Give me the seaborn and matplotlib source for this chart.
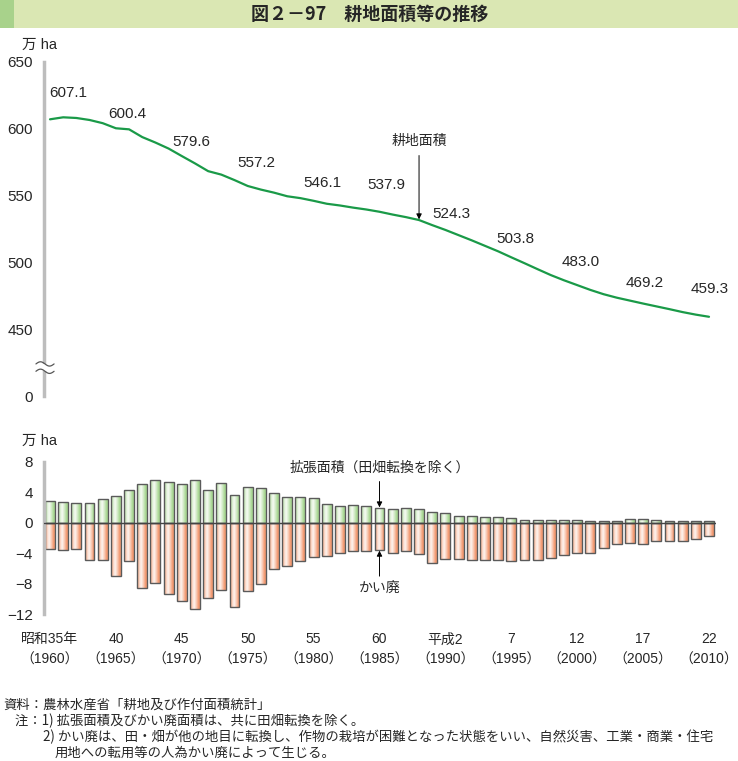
import numpy as np
import matplotlib
matplotlib.use("Agg")
import matplotlib.pyplot as plt
import seaborn as sns
from matplotlib.patches import Rectangle

# data (万ha)
years = list(range(1960, 2011))
farmland = [607.1, 608.6, 608.1, 606.6, 604.2, 600.4, 599.6, 593.8, 589.7, 585.2,
            579.6, 574.1, 568.3, 565.7, 561.6, 557.2, 554.5, 552.2, 549.5, 548.1,
            546.1, 543.9, 542.6, 541.0, 539.6, 537.9, 535.8, 533.9, 531.7, 527.9,
            524.3, 520.4, 516.5, 512.4, 508.3, 503.8, 499.4, 494.9, 490.5, 486.6,
            483.0, 479.4, 476.2, 473.6, 471.4, 469.2, 467.1, 465.0, 462.8, 460.9, 459.3]
expansion = [2.91, 2.74, 2.61, 2.61, 3.13, 3.48, 4.26, 5.13, 5.57, 5.35,
             5.09, 5.61, 4.26, 5.22, 3.65, 4.65, 4.57, 3.91, 3.43, 3.39,
             3.26, 2.52, 2.22, 2.35, 2.13, 1.96, 1.83, 1.96, 1.83, 1.39,
             1.22, 0.83, 0.83, 0.74, 0.74, 0.65, 0.32, 0.32, 0.30, 0.39,
             0.39, 0.26, 0.22, 0.22, 0.52, 0.52, 0.39, 0.22, 0.22, 0.22, 0.22]
abandoned = [-3.39, -3.57, -3.39, -4.91, -4.91, -6.96, -5.00, -8.61, -7.96, -9.39,
             -10.30, -11.35, -9.91, -8.83, -11.09, -8.91, -8.09, -6.00, -5.70, -4.96,
             -4.48, -4.35, -4.00, -3.65, -3.70, -3.61, -3.91, -3.70, -4.04, -5.26,
             -4.70, -4.70, -4.83, -4.83, -4.91, -4.96, -4.83, -4.83, -4.57, -4.26,
             -3.96, -3.91, -3.26, -2.74, -2.65, -2.74, -2.35, -2.35, -2.35, -2.09, -1.74]

label_years = [1960, 1965, 1970, 1975, 1980, 1985, 1990, 1995, 2000, 2005, 2010]
era_labels = ["昭和35年", "40", "45", "50", "55", "60", "平成2", "7", "12", "17", "22"]
# offsets (pixels) of value labels from the line
label_offsets = [(18, 26), (11, 14), (10, 14), (9, 23), (9, 18), (7, 27),
                 (6, 16), (4, 18), (3, 23), (2, 21), (1, 28)]

sns.set_style("white")
plt.rcParams['font.family'] = ['Liberation Sans', 'Noto Sans CJK JP']
plt.rcParams['axes.unicode_minus'] = True

W, H = 738, 761
fig = plt.figure(figsize=(W / 100, H / 100), dpi=100)

def fx(px):
    return px / W

def fy(py):
    return 1 - py / H

# title bar
fig.add_artist(Rectangle((0, fy(28)), 1, 28 / H, transform=fig.transFigure,
                         facecolor='#dae7b3', edgecolor='none'))
fig.add_artist(Rectangle((0, fy(28)), 14 / W, 28 / H, transform=fig.transFigure,
                         facecolor='#a8d28b', edgecolor='none'))
fig.text(fx(370), fy(14), "図２－97　耕地面積等の推移", ha='center', va='center',
         fontsize=13, fontweight='bold', family=['Noto Sans CJK JP'])

xlim = (1960 - 6 / 13.18, 1960 + 666 / 13.18)

# ---------- top: farmland area ----------
ax1 = fig.add_axes([fx(44), fy(396), fx(672), (396 - 62) / H])
sns.lineplot(x=years, y=farmland, ax=ax1, color='#1a9a48', lw=1.6)
ax1.set_xlim(*xlim)
ax1.set_ylim(400, 650)
ax1.set_yticks([400, 450, 500, 550, 600, 650])
ax1.set_yticklabels(["0", "450", "500", "550", "600", "650"])
ax1.set_xticks([])
for s in ['top', 'right', 'bottom']:
    ax1.spines[s].set_visible(False)

for yr, (dx, dy) in zip(label_years, label_offsets):
    v = farmland[years.index(yr)]
    ax1.annotate(f"{v:.1f}", xy=(yr, v), xytext=(dx, dy), textcoords='offset pixels',
                 ha='center', va='center', fontsize=11)

# axis break mark
tr = ax1.get_yaxis_transform()
ax1.add_patch(Rectangle((-0.02, 418.5), 0.04, 5.5, transform=tr, facecolor='white',
                        edgecolor='none', zorder=5, clip_on=False))
wx = np.linspace(-0.012, 0.015, 40)
for base in (424, 418.5):
    ax1.plot(wx, base + 1.6 * np.sin((wx + 0.012) / 0.027 * 2 * np.pi), transform=tr,
             color='#555555', lw=0.9, clip_on=False, zorder=6)

arr_yr = 1988
arr_v = farmland[years.index(arr_yr)]
ax1.annotate('', xy=(arr_yr, arr_v + 0.5), xytext=(arr_yr, 580),
             arrowprops=dict(arrowstyle='-|>', color='black', lw=0.7,
                             mutation_scale=8, shrinkA=0, shrinkB=0))
ax1.text(arr_yr, 586, "耕地面積", ha='center', va='bottom', fontsize=10)

# ---------- bottom: expansion / abandonment ----------
ax2 = fig.add_axes([fx(44), fy(614.3), fx(672), (614.3 - 461.7) / H])
sns.barplot(x=years, y=expansion, ax=ax2, native_scale=True, width=0.75,
            color='#b5dca2', edgecolor='#5a5a5a', linewidth=1.0)
n_pos = len(ax2.patches)
sns.barplot(x=years, y=abandoned, ax=ax2, native_scale=True, width=0.75,
            color='#f5a07c', edgecolor='#5a5a5a', linewidth=1.0)

t = np.linspace(0, 1, 64)
a = np.clip(1 - np.abs(t - 0.42) / 0.42, 0, 1) ** 0.8 * 0.9
def grad(rgb):
    c = np.array(matplotlib.colors.to_rgb(rgb))
    return (c[None, :] * (1 - a[:, None]) + a[:, None])[None, :, :]

g_pos, g_neg = grad('#a9d894'), grad('#f39a72')
for i, p in enumerate(list(ax2.patches)):
    x0, w = p.get_x(), p.get_width()
    y0, h = p.get_y(), p.get_height()
    img = ax2.imshow(g_pos if i < n_pos else g_neg, extent=(x0, x0 + w, min(y0, y0 + h), max(y0, y0 + h)),
                     aspect='auto', interpolation='bilinear', zorder=p.get_zorder() + 0.1)
    img.set_clip_path(p)
    p.set_facecolor('none')
    p.set_zorder(p.get_zorder() + 0.2)

ax2.axhline(0, color='#444444', lw=1.0, zorder=10)
ax2.set_xlim(*xlim)
ax2.set_ylim(-12, 8)
ax2.set_yticks([8, 4, 0, -4, -8, -12])
ax2.set_yticklabels(["8", "4", "0", "−4", "−8", "−12"])
ax2.set_xticks(label_years)
ax2.set_xticklabels([f"{e}\n（{y}）" for e, y in zip(era_labels, label_years)],
                    fontsize=10, linespacing=1.6)
ax2.set_xlabel("")
ax2.set_ylabel("")
for s in ['top', 'right', 'bottom']:
    ax2.spines[s].set_visible(False)

ax2.annotate('', xy=(1985, expansion[25] + 0.05), xytext=(1985, 5.4),
             arrowprops=dict(arrowstyle='-|>', color='black', lw=0.7,
                             mutation_scale=8, shrinkA=0, shrinkB=0))
ax2.text(1985, 7.25, "拡張面積（田畑転換を除く）", ha='center', va='center', fontsize=10)
ax2.annotate('', xy=(1985, abandoned[25] - 0.05), xytext=(1985, -7.0),
             arrowprops=dict(arrowstyle='-|>', color='black', lw=0.7,
                             mutation_scale=8, shrinkA=0, shrinkB=0))
ax2.text(1985, -8.6, "かい廃", ha='center', va='center', fontsize=10)

for ax in (ax1, ax2):
    ax.spines['left'].set_color('#bdbdbd')
    ax.spines['left'].set_linewidth(2.5)
    ax.tick_params(axis='y', direction='out', length=5, width=0.9, color='#777777',
                   labelsize=11, pad=3)
ax2.tick_params(axis='x', length=0, pad=13)

fig.text(fx(22), fy(45), "万 ha", ha='left', va='center', fontsize=10.5)
fig.text(fx(22), fy(441), "万 ha", ha='left', va='center', fontsize=10.5)

# notes
nfont = dict(fontsize=9.6, family=['Noto Sans CJK JP'], va='center', ha='left')
fig.text(fx(3), fy(705), "資料：農林水産省「耕地及び作付面積統計」", **nfont)
fig.text(fx(15), fy(721), "注：1) 拡張面積及びかい廃面積は、共に田畑転換を除く。", **nfont)
fig.text(fx(43), fy(737), "2) かい廃は、田・畑が他の地目に転換し、作物の栽培が困難となった状態をいい、自然災害、工業・商業・住宅", **nfont)
fig.text(fx(55), fy(753), "用地への転用等の人為かい廃によって生じる。", **nfont)

fig.savefig("out.png", dpi=100)
